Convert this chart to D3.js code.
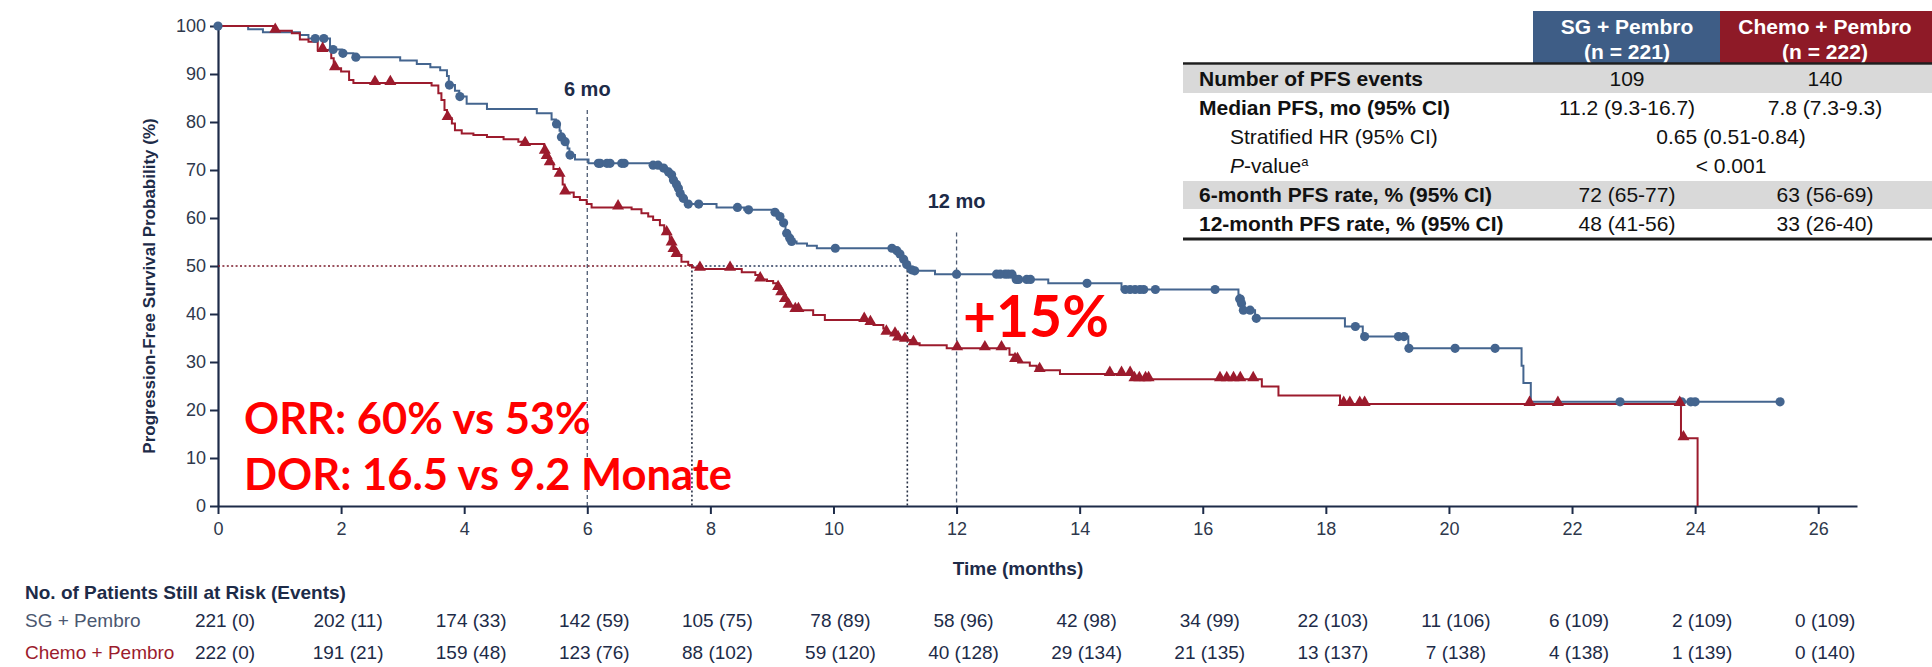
<!DOCTYPE html>
<html>
<head>
<meta charset="utf-8">
<script src="https://cdn.jsdelivr.net/npm/d3@7"></script>
<style>
  html, body { margin: 0; padding: 0; background: #ffffff; }
  svg { display: block; }
  text { font-family: "Liberation Sans", Arial, sans-serif; }
</style>
</head>
<body>
<svg id="chart" width="1932" height="667"></svg>
<script>
// ---- Kaplan-Meier steps: time (months) at which the estimate changes, and the new value (%) ----
const sgStepTimes = [0, 0.49, 0.73, 1.33, 1.47, 1.82, 2.01, 2.2, 2.96, 3.23, 3.45, 3.61, 3.72, 3.75, 3.85, 3.92, 4.04, 4.37,
  5.18, 5.42, 5.49, 5.55, 5.57, 5.63, 5.68, 5.71, 5.8, 6.02, 7.05, 7.2, 7.3, 7.36, 7.39, 7.44, 7.47, 7.5, 7.55, 7.62,
  8.1, 8.55, 9.04, 9.11, 9.17, 9.22, 9.27, 9.31, 9.4, 9.57, 9.73, 11.0, 11.06, 11.12, 11.17, 11.2, 11.3, 11.65,
  12.95, 13.49, 14.68, 16.58, 16.6, 16.62, 16.65, 16.85, 18.31, 18.6, 19.34, 21.18, 21.21, 21.33, 25.38];
const sgStepValues = [100, 99.3, 98.7, 98.1, 97.4, 95.1, 94.3, 93.5, 92.8, 92.1, 91.4, 90.8, 89.6, 87.7, 86.5, 85.3, 83.8, 82.7,
  81.8, 80.5, 79.6, 78.2, 76.9, 75.9, 74.5, 73.1, 72.2, 71.4, 71.0, 70.4, 69.6, 69.0, 67.9, 67.0, 66.2, 65.1, 64.1, 62.9,
  62.2, 61.7, 61.2, 60.3, 59.0, 56.8, 55.8, 55.1, 54.7, 54.2, 53.7, 53.2, 52.5, 51.4, 50.3, 49.2, 49.0, 48.3,
  47.2, 46.4, 45.1, 44.0, 43.1, 42.2, 40.8, 39.1, 37.4, 35.3, 32.85, 29.2, 25.6, 21.7, 21.7];
const sgCensorTimes = [0, 1.58, 1.72, 1.87, 2.03, 2.24, 3.76, 3.93, 5.5, 5.58, 5.64, 5.72, 6.18, 6.21, 6.32, 6.37, 6.56, 6.6,
  7.07, 7.15, 7.24, 7.32, 7.37, 7.4, 7.45, 7.48, 7.51, 7.56, 7.64, 7.81, 8.44, 8.62, 9.05, 9.13, 9.19, 9.24, 9.29, 9.32,
  10.03, 10.95, 11.03, 11.08, 11.14, 11.19, 11.27, 11.32, 12.0, 12.65, 12.71, 12.79, 12.84, 12.9, 12.97, 13.01, 13.14, 13.2,
  14.12, 14.74, 14.82, 14.9, 14.98, 15.04, 15.23, 16.2, 16.6, 16.61, 16.63, 16.66, 16.77, 16.87, 18.48, 18.63,
  19.18, 19.27, 19.35, 20.1, 20.75, 22.78, 23.78, 23.93, 24.0, 25.38];

const chemoStepTimes = [0, 0.9, 1.2, 1.33, 1.47, 1.62, 1.84, 1.88, 2.0, 2.13, 2.2, 3.47, 3.58, 3.63, 3.68, 3.72, 3.8, 3.85,
  3.96, 4.15, 4.37, 4.64, 4.88, 4.97, 5.3, 5.33, 5.38, 5.45, 5.54, 5.6, 5.63, 5.78, 5.88, 5.99, 6.07, 6.72, 6.88, 6.99,
  7.07, 7.18, 7.25, 7.28, 7.34, 7.36, 7.39, 7.44, 7.53, 7.64, 7.7, 7.78, 8.51, 8.73, 8.79, 8.92, 9.02, 9.08, 9.14, 9.2,
  9.26, 9.36, 9.67, 9.86, 10.55, 10.65, 10.81, 10.85, 10.95, 11.04, 11.15, 11.28, 11.4, 11.84, 12.86, 12.93, 13.0,
  13.19, 13.3, 13.68, 14.85, 16.96, 17.23, 18.23, 23.77, 24.04];
const chemoStepValues = [100, 99.0, 98.5, 97.2, 96.7, 95.0, 93.3, 91.2, 90.5, 88.75, 88.1, 87.6, 86.0, 84.6, 82.5, 80.8, 79.7, 78.3,
  77.6, 77.3, 76.9, 76.4, 75.9, 75.4, 73.8, 72.7, 71.4, 70.2, 69.0, 67.0, 65.3, 64.4, 63.75, 62.9, 62.2, 61.8, 61.0, 60.3,
  59.6, 58.5, 57.5, 56.8, 55.5, 54.7, 53.3, 52.3, 50.9, 50.2, 49.7, 49.4, 48.7, 48.1, 47.2, 46.9, 46.4, 45.4, 44.3, 42.9,
  41.7, 40.8, 39.8, 38.75, 38.1, 37.7, 37.0, 36.1, 35.7, 34.9, 34.6, 33.9, 33.5, 32.85, 31.5, 30.4, 29.9,
  29.2, 28.3, 27.5, 26.4, 24.9, 23.0, 21.25, 14.1, 0];
const chemoCensorTimes = [0.93, 1.7, 1.9, 2.55, 2.8, 3.73, 4.99, 5.31, 5.34, 5.39, 5.55, 5.64, 6.5, 7.29, 7.37, 7.4, 7.45,
  7.83, 8.32, 8.81, 9.1, 9.15, 9.21, 9.27, 9.38, 9.43, 10.5, 10.6, 10.86, 11.0, 11.05, 11.16, 11.3, 12.01, 12.46, 12.73,
  12.95, 12.99, 13.35, 14.49, 14.68, 14.82, 14.89, 14.97, 15.07, 15.12, 16.28, 16.39, 16.5, 16.61, 16.82,
  18.29, 18.39, 18.55, 18.63, 21.31, 21.77, 23.75, 23.81];

// ---- medians and landmark times ----
const medianSG = 11.2;
const medianChemo = 7.7;
const landmarkMonths = [6, 12];
const landmarkLabels = ["6 mo", "12 mo"];
const landmarkTop = [82.5, 57];
const landmarkLabelLevel = [85.5, 62];

// ---- axes ----
const xTickValues = [0, 2, 4, 6, 8, 10, 12, 14, 16, 18, 20, 22, 24, 26];
const yTickValues = [0, 10, 20, 30, 40, 50, 60, 70, 80, 90, 100];

// ---- number at risk (events) ----
const riskTimes = [0, 2, 4, 6, 8, 10, 12, 14, 16, 18, 20, 22, 24, 26];
const sgAtRisk = [221, 202, 174, 142, 105, 78, 58, 42, 34, 22, 11, 6, 2, 0];
const sgEvents = [0, 11, 33, 59, 75, 89, 96, 98, 99, 103, 106, 109, 109, 109];
const chemoAtRisk = [222, 191, 159, 123, 88, 59, 40, 29, 21, 13, 7, 4, 1, 0];
const chemoEvents = [0, 21, 48, 76, 102, 120, 128, 134, 135, 137, 138, 138, 139, 140];

// ---- summary table ----
const armNames = ["SG + Pembro", "Chemo + Pembro"];
const armCounts = ["(n = 221)", "(n = 222)"];
const tableRowLabels = ["Number of PFS events", "Median PFS, mo (95% CI)", "Stratified HR (95% CI)", "P-value",
  "6-month PFS rate, % (95% CI)", "12-month PFS rate, % (95% CI)"];
const tableSG = ["109", "11.2 (9.3-16.7)", "", "", "72 (65-77)", "48 (41-56)"];
const tableChemo = ["140", "7.8 (7.3-9.3)", "", "", "63 (56-69)", "33 (26-40)"];
const tableShared = ["", "", "0.65 (0.51-0.84)", "< 0.001", "", ""];
const tableRowBold = [true, true, false, false, true, true];
const tableRowShaded = [true, false, false, false, true, false];

// ---- callouts ----
const calloutLines = ["ORR: 60% vs 53%", "DOR: 16.5 vs 9.2 Monate"];
const gainLabel = "+15%";

// =====================================================================
const BLUE = "#44658f";
const RED = "#9c1b2d";
const NAVY = "#1d2b48";
const TICK_TEXT = "#2e384c";

const svg = d3.select("#chart");
svg.append("rect").attr("width", 1932).attr("height", 667).attr("fill", "#ffffff");

const x = d3.scaleLinear().domain([0, 26.63]).range([218, 1857]);
const y = d3.scaleLinear().domain([0, 100]).range([506, 26]);

// y axis
const yAxis = svg.append("g").attr("transform", `translate(${x(0)},0)`)
  .call(d3.axisLeft(y).tickValues(yTickValues).tickSize(8).tickSizeOuter(0).tickPadding(4));
// x axis
const xAxis = svg.append("g").attr("transform", `translate(0,${y(0)})`)
  .call(d3.axisBottom(x).tickValues(xTickValues).tickSize(8).tickSizeOuter(0).tickPadding(8));
[yAxis, xAxis].forEach(g => {
  g.select(".domain").attr("stroke", NAVY).attr("stroke-width", 2.2);
  g.selectAll(".tick line").attr("stroke", NAVY).attr("stroke-width", 2);
  g.selectAll(".tick text").attr("fill", TICK_TEXT).style("font-size", "18px")
    .style("font-family", "'Liberation Sans', Arial, sans-serif");
});

// axis titles
svg.append("text")
  .attr("transform", `translate(149,${(y(0) + y(100)) / 2 + 20}) rotate(-90)`)
  .attr("text-anchor", "middle").attr("dominant-baseline", "central")
  .attr("fill", NAVY).style("font-size", "17px").style("font-weight", "bold")
  .text("Progression-Free Survival Probability (%)");
svg.append("text")
  .attr("x", 1018).attr("y", 575).attr("text-anchor", "middle")
  .attr("fill", NAVY).style("font-size", "19px").style("font-weight", "bold")
  .text("Time (months)");

// landmark dashed lines
landmarkMonths.forEach((m, i) => {
  svg.append("line")
    .attr("x1", x(m)).attr("x2", x(m)).attr("y1", y(landmarkTop[i])).attr("y2", y(0))
    .attr("stroke", "#4d5a72").attr("stroke-width", 1.3).attr("stroke-dasharray", "4,3");
  svg.append("text")
    .attr("x", x(m)).attr("y", y(landmarkLabelLevel[i])).attr("text-anchor", "middle")
    .attr("fill", NAVY).style("font-size", "20px").style("font-weight", "bold")
    .text(landmarkLabels[i]);
});

// median reference lines
const dotted = "2,2.4";
svg.append("line").attr("x1", x(0)).attr("x2", x(medianChemo)).attr("y1", y(50)).attr("y2", y(50))
  .attr("stroke", "#7a1a2a").attr("stroke-width", 1.6).attr("stroke-dasharray", dotted);
svg.append("line").attr("x1", x(medianChemo)).attr("x2", x(medianSG)).attr("y1", y(50)).attr("y2", y(50))
  .attr("stroke", "#2a3a5c").attr("stroke-width", 1.6).attr("stroke-dasharray", dotted);
[medianChemo, medianSG].forEach(m => {
  svg.append("line").attr("x1", x(m)).attr("x2", x(m)).attr("y1", y(50)).attr("y2", y(0))
    .attr("stroke", "#2a3347").attr("stroke-width", 1.6).attr("stroke-dasharray", dotted);
});

// survival curves
const stepLine = d3.line().x(d => x(d[0])).y(d => y(d[1])).curve(d3.curveStepAfter);
function survivalAt(times, values, t) {
  const i = d3.bisectRight(times, t) - 1;
  return values[Math.max(0, i)];
}
svg.append("path")
  .datum(sgStepTimes.map((t, i) => [t, sgStepValues[i]]))
  .attr("d", stepLine).attr("fill", "none").attr("stroke", BLUE).attr("stroke-width", 2);
svg.append("path")
  .datum(chemoStepTimes.map((t, i) => [t, chemoStepValues[i]]))
  .attr("d", stepLine).attr("fill", "none").attr("stroke", RED).attr("stroke-width", 2);

// censor marks
svg.append("g").selectAll("circle")
  .data(sgCensorTimes).join("circle")
  .attr("cx", t => x(t)).attr("cy", t => y(survivalAt(sgStepTimes, sgStepValues, t)))
  .attr("r", 4.6).attr("fill", BLUE);
const tri = d3.symbol().type(d3.symbolTriangle).size(62);
svg.append("g").selectAll("path")
  .data(chemoCensorTimes).join("path")
  .attr("d", tri)
  .attr("transform", t => `translate(${x(t)},${y(survivalAt(chemoStepTimes, chemoStepValues, t)) - 1.5})`)
  .attr("fill", RED);

// red callouts
svg.append("g").selectAll("text")
  .data(calloutLines).join("text")
  .attr("x", 244).attr("y", (d, i) => 434 + i * 56)
  .attr("fill", "#ff0000").style("font-family", "Lato, 'Open Sans', sans-serif")
  .style("font-size", "43.5px").style("font-weight", "bold")
  .text(d => d);
svg.append("text")
  .attr("x", 963).attr("y", 337)
  .attr("fill", "#ff0000").style("font-family", "Lato, 'Open Sans', sans-serif")
  .style("font-size", "57px").style("font-weight", "bold")
  .text(gainLabel);

// number at risk table
const riskX = t => x(t) + 7;
svg.append("text").attr("x", 25).attr("y", 599)
  .attr("fill", NAVY).style("font-size", "19px").style("font-weight", "bold")
  .text("No. of Patients Still at Risk (Events)");
const riskRows = [
  { name: armNames[0], color: "#4b5770", y: 627, atRisk: sgAtRisk, events: sgEvents },
  { name: armNames[1], color: RED, y: 659, atRisk: chemoAtRisk, events: chemoEvents }
];
riskRows.forEach(r => {
  svg.append("text").attr("x", 25).attr("y", r.y).attr("fill", r.color)
    .style("font-size", "19px").text(r.name);
  svg.append("g").selectAll("text")
    .data(riskTimes).join("text")
    .attr("x", t => riskX(t)).attr("y", r.y).attr("text-anchor", "middle")
    .attr("fill", NAVY).style("font-size", "19px")
    .text((t, i) => `${r.atRisk[i]} (${r.events[i]})`);
});

// summary table
const tableLeft = 1183, tableRight = 1932;
const colCenters = [1627, 1825];
const colEdges = [1533, 1720, 1932];
const rowBand = d3.scaleBand().domain(d3.range(tableRowLabels.length)).range([64, 238]);
const table = svg.append("g");
table.selectAll("rect.shade")
  .data(d3.range(tableRowLabels.length).filter(i => tableRowShaded[i])).join("rect")
  .attr("x", tableLeft).attr("width", tableRight - tableLeft)
  .attr("y", i => rowBand(i) + 1).attr("height", rowBand.bandwidth() - 1)
  .attr("fill", "#d9d9d9");
[BLUE, RED].forEach((c, i) => {
  table.append("rect").attr("x", colEdges[i]).attr("y", 11)
    .attr("width", colEdges[i + 1] - colEdges[i]).attr("height", 52)
    .attr("fill", i === 0 ? "#3e5d86" : "#8e1a27");
  table.append("text").attr("x", colCenters[i]).attr("y", 34).attr("text-anchor", "middle")
    .attr("fill", "#ffffff").style("font-size", "21px").style("font-weight", "bold").text(armNames[i]);
  table.append("text").attr("x", colCenters[i]).attr("y", 59).attr("text-anchor", "middle")
    .attr("fill", "#ffffff").style("font-size", "21px").style("font-weight", "bold").text(armCounts[i]);
});
table.append("line").attr("x1", tableLeft).attr("x2", tableRight).attr("y1", 63.5).attr("y2", 63.5)
  .attr("stroke", "#1e1e1e").attr("stroke-width", 2.5);
table.append("line").attr("x1", tableLeft).attr("x2", tableRight).attr("y1", 239).attr("y2", 239)
  .attr("stroke", "#1e1e1e").attr("stroke-width", 3);

tableRowLabels.forEach((label, i) => {
  const cy = rowBand(i) + rowBand.bandwidth() / 2 + 7.5;
  const t = table.append("text")
    .attr("x", tableRowBold[i] ? 1199 : 1230).attr("y", cy)
    .attr("fill", "#111111").style("font-size", "21px")
    .style("font-weight", tableRowBold[i] ? "bold" : "normal");
  if (label === "P-value") {
    t.append("tspan").style("font-style", "italic").text("P");
    t.append("tspan").text("-value");
    t.append("tspan").attr("dy", -7).style("font-size", "13px").text("a");
  } else {
    t.text(label);
  }
  [tableSG[i], tableChemo[i]].forEach((v, j) => {
    if (v) table.append("text").attr("x", colCenters[j]).attr("y", cy).attr("text-anchor", "middle")
      .attr("fill", "#111111").style("font-size", "21px").text(v);
  });
  if (tableShared[i]) table.append("text").attr("x", 1731).attr("y", cy).attr("text-anchor", "middle")
    .attr("fill", "#111111").style("font-size", "21px").text(tableShared[i]);
});
</script>
</body>
</html>
